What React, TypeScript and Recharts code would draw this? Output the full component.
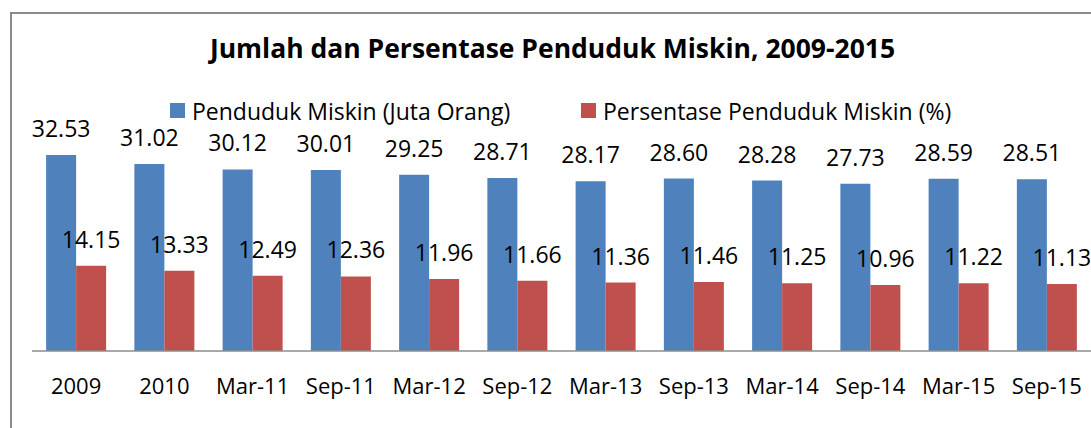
import { BarChart, Bar, XAxis, YAxis, LabelList } from 'recharts';

const periods = ['2009', '2010', 'Mar-11', 'Sep-11', 'Mar-12', 'Sep-12', 'Mar-13', 'Sep-13', 'Mar-14', 'Sep-14', 'Mar-15', 'Sep-15'];
const pendudukMiskin = [32.53, 31.02, 30.12, 30.01, 29.25, 28.71, 28.17, 28.6, 28.28, 27.73, 28.59, 28.51];
const persentaseMiskin = [14.15, 13.33, 12.49, 12.36, 11.96, 11.66, 11.36, 11.46, 11.25, 10.96, 11.22, 11.13];

const data = periods.map((period, i) => ({
  period,
  jumlah: pendudukMiskin[i],
  persen: persentaseMiskin[i],
}));

const FONT = '"Open Sans", sans-serif';
const BLUE = '#4F81BD';
const RED = '#C0504D';

const legendItems = [
  { label: 'Penduduk Miskin (Juta Orang)', color: BLUE, left: 170 },
  { label: 'Persentase Penduduk Miskin (%)', color: RED, left: 581 },
];

function ChartLegend() {
  return (
    <div style={{ position: 'absolute', left: 0, top: 101.5, fontFamily: FONT, fontSize: 23, lineHeight: '18px', color: '#000' }}>
      {legendItems.map((item) => (
        <div key={item.label} style={{ position: 'absolute', left: item.left, top: 0, height: 18, display: 'flex', alignItems: 'center', whiteSpace: 'nowrap' }}>
          <span style={{ width: 15, height: 15, background: item.color, marginRight: 7, display: 'inline-block' }} />
          <span>{item.label}</span>
        </div>
      ))}
    </div>
  );
}

export default function App() {
  return (
    <div style={{ position: 'absolute', left: 0, top: 0, width: 1091, height: 428, overflow: 'hidden', background: '#fff' }}>
      <div
        style={{
          position: 'absolute',
          left: 10,
          top: 12,
          width: 1200,
          height: 500,
          borderLeft: '2px solid #8a8a8a',
          borderTop: '2px solid #8a8a8a',
        }}
      />
      <div
        style={{
          position: 'absolute',
          left: 0,
          width: 1105,
          top: 30,
          textAlign: 'center',
          fontFamily: FONT,
          fontWeight: 700,
          fontSize: 26.5,
          color: '#000',
        }}
      >
        Jumlah dan Persentase Penduduk Miskin, 2009-2015
      </div>
      <ChartLegend />
      <div style={{ position: 'absolute', left: 0, top: 0 }}>
        <BarChart
          width={1091}
          height={428}
          data={data}
          margin={{ top: 140, right: 0, left: 32, bottom: 0 }}
          barCategoryGap="16%"
          barGap={0}
        >
          <XAxis
            dataKey="period"
            height={77}
            tickLine={false}
            tickSize={6}
            tickMargin={21}
            axisLine={{ stroke: '#8c8c8c', strokeWidth: 1.5 }}
            tick={{ fill: '#000', fontSize: 22, fontFamily: FONT }}
            interval={0}
          />
          <YAxis hide domain={[0, 35]} />
          <Bar dataKey="jumlah" fill={BLUE} isAnimationActive={false}>
            <LabelList dataKey="jumlah" position="top" offset={18} fill="#000" fontSize={23} fontFamily={FONT} formatter={(v: number) => v.toFixed(2)} />
          </Bar>
          <Bar dataKey="persen" fill={RED} isAnimationActive={false}>
            <LabelList dataKey="persen" position="top" offset={18} fill="#000" fontSize={23} fontFamily={FONT} formatter={(v: number) => v.toFixed(2)} />
          </Bar>
        </BarChart>
      </div>
    </div>
  );
}
